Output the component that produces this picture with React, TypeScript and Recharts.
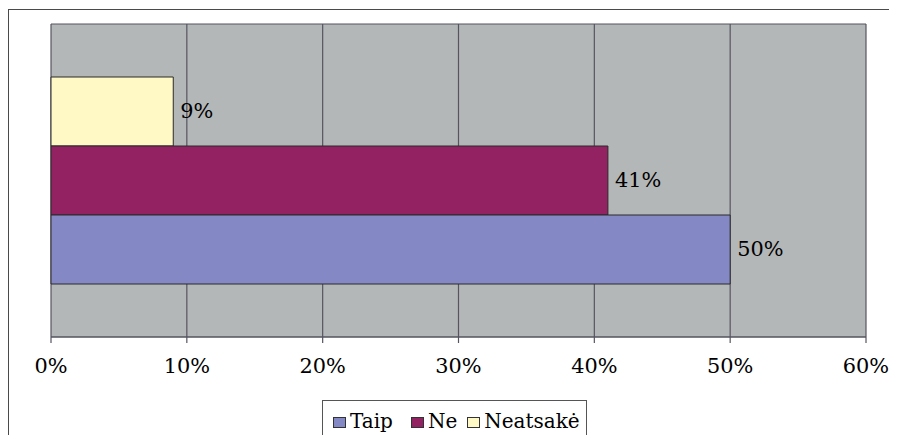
import React from 'react';
import { BarChart, Bar, XAxis, YAxis, CartesianGrid } from 'recharts';

const categories = ['Atsakymai'];
const seriesNames = ['Taip', 'Ne', 'Neatsakė'];
const seriesKeys = ['taip', 'ne', 'neatsake'];
const seriesValues = [50, 41, 9];
const seriesColors = ['#8488C4', '#932263', '#FFF9C5'];
const xTicks = [0, 10, 20, 30, 40, 50, 60];

const data = categories.map((name) => {
  const row: Record<string, any> = { name };
  seriesKeys.forEach((k, i) => {
    row[k] = seriesValues[i];
  });
  return row;
});

const FONT = 'DejaVu Serif';
const FS = 19.5;
const STRETCH = 1.07;

const Tick = (props: any) => {
  const { x, y, payload } = props;
  return (
    <g transform={`translate(${x},${y})`}>
      <text
        x={0}
        y={0}
        dy="0.71em"
        textAnchor="middle"
        transform={`scale(${STRETCH},1)`}
        style={{ fontFamily: FONT, fontSize: FS }}
        fill="#000"
      >
        {payload.value}%
      </text>
    </g>
  );
};

const renderLabel = (props: any) => {
  const { x, y, width, height, value } = props;
  const tx = Number(x) + Number(width) + 7;
  const ty = Number(y) + Number(height) / 2;
  return (
    <g transform={`translate(${tx},${ty})`}>
      <text
        x={0}
        y={0}
        dominantBaseline="central"
        textAnchor="start"
        transform={`scale(${STRETCH},1)`}
        style={{ fontFamily: FONT, fontSize: FS }}
        fill="#000"
      >
        {value}%
      </text>
    </g>
  );
};

// bars drawn top-to-bottom: Neatsakė, Ne, Taip
const drawOrder = [2, 1, 0];

export default function App() {
  return (
    <div style={{ position: 'relative', width: 889, height: 427, overflow: 'hidden', fontFamily: FONT }}>
      <div
        style={{
          position: 'absolute',
          left: 0,
          top: 1,
          width: 2000,
          height: 2000,
          borderTop: '1.5px solid #4a4a4a',
          borderLeft: '1.5px solid #4a4a4a',
        }}
      />
      <div style={{ position: 'absolute', left: 0, top: 0 }}>
        <BarChart
          width={889}
          height={427}
          data={data}
          layout="vertical"
          margin={{ top: 16, right: 31, bottom: 58, left: 43 }}
          barCategoryGap={53}
          barGap={0}
        >
          <CartesianGrid
            fill="#B4B7B7"
            fillOpacity={1}
            stroke="#555560"
            strokeWidth={1.2}
            horizontalCoordinatesGenerator={({ offset }: any) => [offset.top, offset.top + offset.height]}
          />
          <XAxis
            type="number"
            domain={[0, 60]}
            ticks={xTicks}
            interval={0}
            height={40}
            tickSize={6}
            tickMargin={16}
            tick={<Tick />}
            axisLine={{ stroke: '#555560', strokeWidth: 1.2 }}
            tickLine={{ stroke: '#555560', strokeWidth: 1.2 }}
          />
          <YAxis type="category" dataKey="name" hide />
          {drawOrder.map((i) => (
            <Bar
              key={seriesKeys[i]}
              dataKey={seriesKeys[i]}
              name={seriesNames[i]}
              fill={seriesColors[i]}
              stroke="#2a2a2a"
              strokeWidth={1}
              isAnimationActive={false}
              label={renderLabel}
            />
          ))}
        </BarChart>
      </div>
      <div
        style={{
          position: 'absolute',
          left: 314,
          top: 392,
          width: 265,
          height: 44,
          border: '1px solid #555',
          boxSizing: 'border-box',
          background: '#fff',
          fontFamily: FONT,
          fontSize: FS + 0.5,
          color: '#000',
          display: 'flex',
          alignItems: 'flex-start',
          paddingLeft: 10,
          paddingTop: 8,
          lineHeight: '24px',
          whiteSpace: 'nowrap',
        }}
      >
        {seriesNames.map((n, i) => (
          <div key={n} style={{ display: 'flex', alignItems: 'center', marginRight: i === 0 ? 18 : 10 }}>
            <span
              style={{
                display: 'inline-block',
                width: 13,
                height: 11,
                background: seriesColors[i],
                border: '1px solid #333',
                boxSizing: 'border-box',
                marginRight: 4,
                marginTop: 2,
              }}
            />
            <span>{n}</span>
          </div>
        ))}
      </div>
    </div>
  );
}
